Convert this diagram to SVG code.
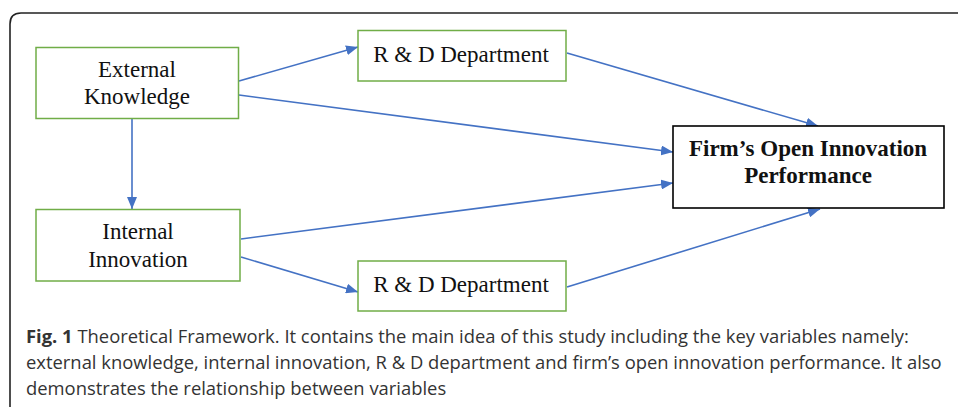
<svg xmlns="http://www.w3.org/2000/svg" width="958" height="407" viewBox="0 0 958 407">
<style>
.node{fill:#fff;stroke:#70AD47;stroke-width:1.5}
.main{fill:#fff;stroke:#000;stroke-width:1.6}
.lbl{font-family:"Liberation Serif","Times New Roman",serif;font-size:23px;fill:#111;text-anchor:middle}
.bold{font-weight:bold}
.edge{fill:none;stroke:#4472C4;stroke-width:1.6;marker-end:url(#ah)}
.cap{font-family:"Open Sans","Noto Sans",sans-serif;font-size:18.4px;fill:#333}
</style>
<defs>
<marker id="ah" viewBox="0 0 12 10" refX="12" refY="5" markerWidth="12" markerHeight="10" markerUnits="userSpaceOnUse" orient="auto">
<path d="M0,0 L12,5 L0,10 Z" fill="#4472C4"/>
</marker>
</defs>
<rect width="958" height="407" fill="#fff"/>
<path d="M10,407 V24 Q10,13 21,13 H958" fill="none" stroke="#222" stroke-width="1.6"/>
<g id="connectors">
<line class="edge" x1="239" y1="81" x2="358" y2="47"/>
<line class="edge" x1="239" y1="95" x2="673" y2="152"/>
<line class="edge" x1="132" y1="119" x2="132" y2="209"/>
<line class="edge" x1="567" y1="53" x2="818" y2="126"/>
<line class="edge" x1="241" y1="239" x2="673" y2="183"/>
<line class="edge" x1="241" y1="257" x2="358" y2="292"/>
<line class="edge" x1="567" y1="287" x2="820" y2="209"/>
</g>
<g id="external-knowledge">
<rect class="node" x="36" y="47.5" width="202.5" height="71"/>
<text class="lbl" x="137" y="77">External</text>
<text class="lbl" x="137" y="104">Knowledge</text>
</g>
<g id="rd-top">
<rect class="node" x="358" y="30.5" width="208" height="50.5"/>
<text class="lbl" x="461" y="62">R &amp; D Department</text>
</g>
<g id="internal-innovation">
<rect class="node" x="36" y="209.5" width="204" height="71.5"/>
<text class="lbl" x="138" y="239">Internal</text>
<text class="lbl" x="138" y="267">Innovation</text>
</g>
<g id="rd-bottom">
<rect class="node" x="358" y="261" width="208" height="50"/>
<text class="lbl" x="461" y="292">R &amp; D Department</text>
</g>
<g id="firm-performance">
<rect class="main" x="673" y="126" width="271" height="82"/>
<text class="lbl bold" x="808" y="156">Firm’s Open Innovation</text>
<text class="lbl bold" x="808" y="183">Performance</text>
</g>
<g id="caption">
<text class="cap" x="26" y="343"><tspan font-weight="bold">Fig. 1</tspan> Theoretical Framework. It contains the main idea of this study including the key variables namely:</text>
<text class="cap" x="26" y="369">external knowledge, internal innovation, R &amp; D department and firm’s open innovation performance. It also</text>
<text class="cap" x="26" y="395">demonstrates the relationship between variables</text>
</g>
</svg>
